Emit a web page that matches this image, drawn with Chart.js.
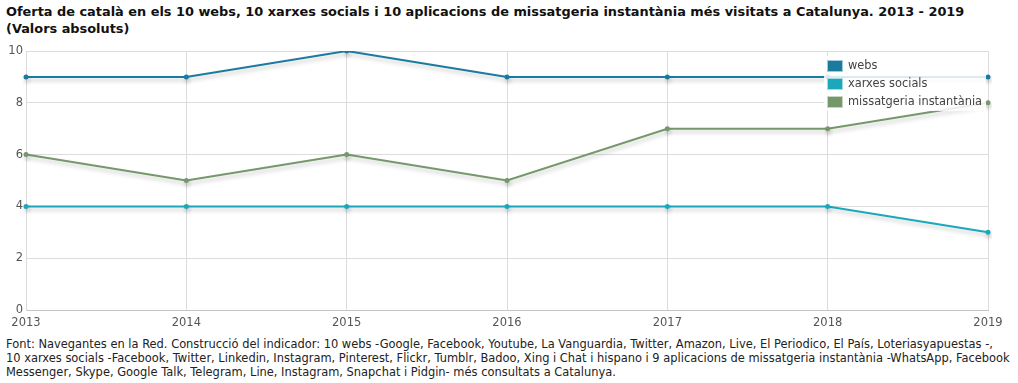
<!DOCTYPE html>
<html><head><meta charset="utf-8">
<script src="https://cdn.jsdelivr.net/npm/chart.js@4.4.1/dist/chart.umd.min.js"></script>
<style>
html,body{margin:0;padding:0;background:#fff;width:1018px;height:383px;overflow:hidden;font-family:"DejaVu Sans",Verdana,sans-serif;}
#title{position:absolute;left:6px;top:3px;font-weight:bold;font-size:12.9px;line-height:17px;color:#111;}
#wrap{position:absolute;left:0;top:0;width:1018px;height:332px;}
#foot{position:absolute;left:6px;top:337px;font-size:11.45px;line-height:14px;color:#222;width:1012px;white-space:nowrap;}
#legend{position:absolute;left:824px;top:56px;width:162px;height:55px;background:rgba(255,255,255,0.85);font-size:11.4px;color:#444;}
.li{position:absolute;left:3px;height:12px;line-height:12px;}
.sw{position:absolute;left:0;top:0;width:14px;height:10px;border:1px solid rgba(255,255,255,0.6);}
.lt{position:absolute;left:21px;top:-1px;white-space:nowrap;}
</style></head><body>
<div id="title">Oferta de català en els 10 webs, 10 xarxes socials i 10 aplicacions de missatgeria instantània més visitats a Catalunya. 2013 - 2019<br>(Valors absoluts)</div>
<div id="wrap"><canvas id="c" width="1018" height="332"></canvas></div>
<div id="legend"></div>
<div id="foot">Font: Navegantes en la Red. Construcció del indicador: 10 webs -Google, Facebook, Youtube, La Vanguardia, Twitter, Amazon, Live, El Periodico, El País, Loteriasyapuestas -,<br>10 xarxes socials -Facebook, Twitter, Linkedin, Instagram, Pinterest, Flickr, Tumblr, Badoo, Xing i Chat i hispano i 9 aplicacions de missatgeria instantània -WhatsApp, Facebook<br>Messenger, Skype, Google Talk, Telegram, Line, Instagram, Snapchat i Pidgin- més consultats a Catalunya.</div>
<script>
const years = ["2013","2014","2015","2016","2017","2018","2019"];
const webs = [9,9,10,9,9,9,9];
const xarxesSocials = [4,4,4,4,4,4,3];
const missatgeria = [6,5,6,5,7,7,8];
const seriesNames = ["webs","xarxes socials","missatgeria instantània"];
const seriesColors = ["#1b7b9f","#1ba8ba","#75986a"];
const yTicks = [0,2,4,6,8,10];

const shadow = {
  id:'shadow',
  beforeDatasetDraw(chart){const c=chart.ctx;c.save();c.shadowColor='rgba(0,0,0,0.22)';c.shadowOffsetY=3;c.shadowOffsetX=1;c.shadowBlur=4;},
  afterDatasetDraw(chart){chart.ctx.restore();}
};
const data = [webs,xarxesSocials,missatgeria];
new Chart(document.getElementById('c'),{
  type:'line',
  data:{labels:years,datasets:data.map((d,i)=>({label:seriesNames[i],data:d,borderColor:seriesColors[i],backgroundColor:seriesColors[i],borderWidth:2,pointRadius:2.5,pointBorderWidth:0,tension:0,fill:false}))},
  options:{
    animation:false,responsive:false,
    layout:{padding:{top:51,right:30,bottom:0,left:0}},
    plugins:{legend:{display:false},tooltip:{enabled:false}},
    scales:{
      x:{offset:false,grid:{color:'#dcdcdc',drawTicks:false},border:{color:'#c4c4c4'},
         ticks:{color:'#555',font:{family:'DejaVu Sans',size:11.5},padding:6,maxRotation:0},
         afterFit(s){s.height=22;}},
      y:{min:0,max:10,afterBuildTicks(s){s.ticks=yTicks.map(v=>({value:v}));},
         grid:{color:'#dcdcdc',drawTicks:false},border:{color:'#dcdcdc'},
         ticks:{color:'#555',font:{family:'DejaVu Sans',size:11.5},padding:3},
         afterFit(s){s.width=26;}}
    }
  },
  plugins:[shadow]
});
const lg=document.getElementById('legend');
seriesNames.forEach((n,i)=>{const d=document.createElement('div');d.className='li';d.style.top=(4+i*18)+'px';
 d.innerHTML='<div class="sw" style="background:'+seriesColors[i]+'"></div><div class="lt">'+n+'</div>';lg.appendChild(d);});
</script>
</body></html>
